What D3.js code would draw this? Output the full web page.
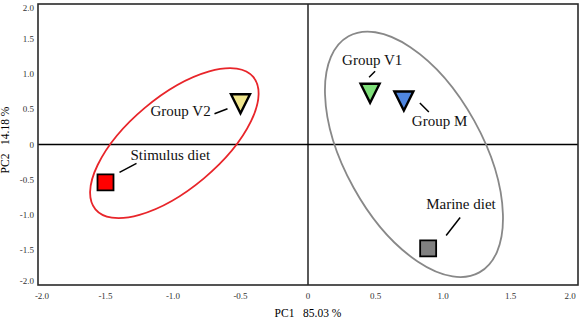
<!DOCTYPE html>
<html>
<head>
<meta charset="utf-8">
<script src="https://cdn.jsdelivr.net/npm/d3@7"></script>
<style>
body { margin: 0; background: #fff; }
text { font-family: "Liberation Serif", "Times New Roman", serif; }
</style>
</head>
<body>
<script>
// data
var names = ['Stimulus diet', 'Group V2', 'Group V1', 'Group M', 'Marine diet'];
var pc1 = [-1.50, -0.50, 0.46, 0.71, 0.89];
var pc2 = [-0.54, 0.58, 0.73, 0.62, -1.48];
var shapes = ['square', 'tri', 'tri', 'tri', 'square'];
var fills = ['#ff0000', '#f0e68c', '#7fe07a', '#4f86e0', '#808080'];

var xTicks = [-2.0, -1.5, -1.0, -0.5, 0, 0.5, 1.0, 1.5, 2.0];
var yTicks = [-2.0, -1.5, -1.0, -0.5, 0, 0.5, 1.0, 1.5, 2.0];

// confidence ellipses: centre in PC units
var ellCx = [-0.99, 0.785];
var ellCy = [0.02, -0.14];
var ellColor = ['#e8252a', '#888888'];

//layout
var W = 582, H = 319;
var x = d3.scaleLinear().domain([-2, 2]).range([38, 578]);
var y = d3.scaleLinear().domain([-2, 2]).range([285, 4]);

var svg = d3.select('body')
  .append('svg')
  .attr('width', W)
  .attr('height', H);

// tick labels
svg.selectAll('.xt')
  .data(xTicks)
  .enter()
  .append('text')
  .attr('class', 'xt')
  .attr('x', function(d) { return Math.max(42, Math.min(570, x(d))); })
  .attr('y', 299)
  .attr('text-anchor', 'middle')
  .attr('font-size', 9)
  .attr('fill', '#333')
  .text(function(d) { return d === 0 ? '0' : d.toFixed(1); });

svg.selectAll('.yt')
  .data(yTicks)
  .enter()
  .append('text')
  .attr('class', 'yt')
  .attr('x', 34)
  .attr('y', function(d) { return Math.max(8, Math.min(281, y(d))) + 3; })
  .attr('text-anchor', 'end')
  .attr('font-size', 9)
  .attr('fill', '#333')
  .text(function(d) { return d === 0 ? '0' : d.toFixed(1); });

// axis titles
svg.append('text')
  .attr('x', 308)
  .attr('y', 317)
  .attr('text-anchor', 'middle')
  .attr('font-size', 11.5)
  .text('PC1\u00a0\u00a0\u00a085.03 %');

svg.append('text')
  .attr('transform', 'translate(9,140) rotate(-90)')
  .attr('text-anchor', 'middle')
  .attr('font-size', 11.5)
  .text('PC2\u00a0\u00a0\u00a014.18 %');

// zero lines
svg.append('line')
  .attr('x1', x(-2)).attr('x2', x(2))
  .attr('y1', y(0)).attr('y2', y(0))
  .attr('stroke', '#000').attr('stroke-width', 1.3);
svg.append('line')
  .attr('x1', x(0)).attr('x2', x(0))
  .attr('y1', y(-2)).attr('y2', y(2))
  .attr('stroke', '#000').attr('stroke-width', 1.3);

// frame
svg.append('rect')
  .attr('x', x(-2)).attr('y', y(2))
  .attr('width', x(2) - x(-2))
  .attr('height', y(-2) - y(2))
  .attr('fill', 'none')
  .attr('stroke', '#2a2a2a')
  .attr('stroke-width', 1.6);

// ellipses (radii in px, rotation in degrees)
var ellRx = [103, 135];
var ellRy = [46, 69];
var ellRot = [-40, 61];
ellCx.forEach(function(cx, i) {
  svg.append('ellipse')
    .attr('transform', 'translate(' + x(cx) + ',' + y(ellCy[i]) + ') rotate(' + ellRot[i] + ')')
    .attr('rx', ellRx[i])
    .attr('ry', ellRy[i])
    .attr('fill', 'none')
    .attr('stroke', ellColor[i])
    .attr('stroke-width', 1.8);
});

// labels and leader lines, offsets from each point in px
var labDx = [25, -90, -28, 8, -2];
var labDy = [-22, 12, -28, 25, -39];
var leadA = [[14, -10], [-26, 10], [-1, -16], [16, 2], [18, -13]];
var leadB = [[31, -19], [-13, 5], [5, -22], [25, 11], [32, -31]];

var pts = svg.selectAll('.pt')
  .data(names)
  .enter()
  .append('g')
  .attr('class', 'pt')
  .attr('transform', function(d, i) { return 'translate(' + x(pc1[i]) + ',' + y(pc2[i]) + ')'; });

pts.append('line')
  .attr('x1', function(d, i) { return leadA[i][0]; })
  .attr('y1', function(d, i) { return leadA[i][1]; })
  .attr('x2', function(d, i) { return leadB[i][0]; })
  .attr('y2', function(d, i) { return leadB[i][1]; })
  .attr('stroke', '#000')
  .attr('stroke-width', 1.5);

pts.append('path')
  .attr('d', function(d, i) {
    if (shapes[i] === 'square') return 'M-8,-8H8V8H-8Z';
    return 'M-9.5,-9.5H9.5L0,9.5Z';
  })
  .attr('fill', function(d, i) { return fills[i]; })
  .attr('stroke', '#000')
  .attr('stroke-width', function(d, i) { return shapes[i] === 'square' ? 1.8 : 2.4; })
  .attr('stroke-linejoin', 'miter');

pts.append('text')
  .attr('x', function(d, i) { return labDx[i]; })
  .attr('y', function(d, i) { return labDy[i]; })
  .attr('font-size', 15)
  .attr('fill', '#111')
  .text(function(d) { return d; });
</script>
</body>
</html>
